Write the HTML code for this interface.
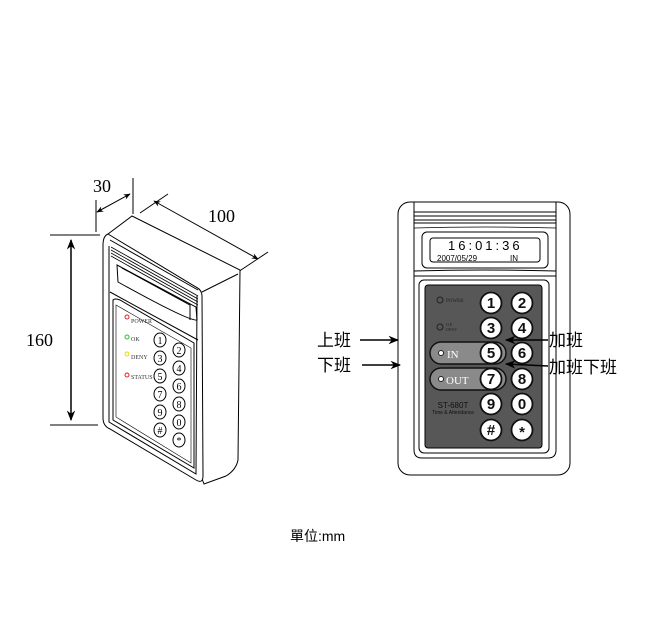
<!DOCTYPE html>
<html><head><meta charset="utf-8"><style>
html,body{margin:0;padding:0;background:#fff;}
svg{display:block}
text{font-family:"Liberation Serif","Noto Serif CJK SC",serif;}
.s{font-family:"Liberation Sans","Noto Sans CJK SC",sans-serif;}
</style></head><body>
<svg width="660" height="630" viewBox="0 0 660 630" xmlns="http://www.w3.org/2000/svg">
<defs>
<marker id="a" viewBox="0 0 10 10" refX="9" refY="5" markerWidth="7" markerHeight="7" orient="auto-start-reverse"><path d="M0,1 L10,5 L0,9 L3,5z" fill="#000"/></marker>
</defs>
<g stroke="#000" fill="none" stroke-width="1">
<line x1="50" y1="235" x2="100" y2="235"/>
<line x1="50" y1="425" x2="98" y2="425"/>
<line x1="71" y1="240" x2="71" y2="420" stroke-width="1.5" marker-start="url(#a)" marker-end="url(#a)"/>
<line x1="96" y1="200" x2="96" y2="232"/>
<line x1="133" y1="178" x2="133" y2="214"/>
<line x1="97" y1="212" x2="130" y2="194" marker-start="url(#a)" marker-end="url(#a)"/>
<line x1="140" y1="213" x2="168" y2="194"/>
<line x1="238" y1="272" x2="268" y2="252"/>
<line x1="154" y1="201" x2="258" y2="259" marker-start="url(#a)" marker-end="url(#a)"/>
<path d="M108,234 L132,216 L240,270 L238,460 Q236,470 226,476 L204,484 Z" fill="#fff"/>
<path d="M108,234 Q103,236 103,245 L103,418 Q103,426 110,429 L196,480 Q203,484 203,476 L202,296 Q202,290 196,287 Z" fill="#fff"/>
<path d="M202,292 L238,274"/>
<path d="M110,240 L198,290"/>
<path d="M109,246 L109,422 L196,474 L197,296"/>
<g stroke-width="0.8">
<path d="M111,247 L198,296"/><path d="M111,250 L198,299"/><path d="M111,253 L198,302"/><path d="M111,256 L198,305"/>
</g>
<path d="M117,265 L196,307 L197,320 Q190,322 118,282 Z"/>
<path d="M122,268 L190,305 L190,320"/>
<path d="M110,292 L198,340"/>
<path d="M113,300 Q115,298 120,300 L194,343 L194,468 L113,420 Z"/>
<path d="M116,305 L191,348 L191,463 L116,417 Z" stroke-width="0.6"/>
<g stroke-width="1">
<ellipse cx="160" cy="340" rx="6" ry="7"/><ellipse cx="179" cy="350" rx="6" ry="7"/>
<ellipse cx="160" cy="358" rx="6" ry="7"/><ellipse cx="179" cy="368" rx="6" ry="7"/>
<ellipse cx="160" cy="376" rx="6" ry="7"/><ellipse cx="179" cy="386" rx="6" ry="7"/>
<ellipse cx="160" cy="394" rx="6" ry="7"/><ellipse cx="179" cy="404" rx="6" ry="7"/>
<ellipse cx="160" cy="412" rx="6" ry="7"/><ellipse cx="179" cy="422" rx="6" ry="7"/>
<ellipse cx="160" cy="430" rx="6" ry="7"/><ellipse cx="179" cy="440" rx="6" ry="7"/>
</g>
<circle cx="127" cy="317" r="2" stroke="#d22"/>
<circle cx="127" cy="337" r="2" stroke="#3b3"/>
<circle cx="127" cy="354" r="2" stroke="#dd0"/>
<circle cx="127" cy="375" r="2" stroke="#d22"/>
<rect x="398" y="202" width="172" height="273" rx="12"/>
<path d="M414,202 L414,450 Q414,458 422,458 L548,458 Q556,458 556,450 L556,202"/>
<line x1="414" y1="212" x2="556" y2="212"/><line x1="414" y1="216" x2="556" y2="216"/>
<line x1="414" y1="220" x2="556" y2="220"/><line x1="414" y1="223" x2="556" y2="223"/>
<path d="M414,228 Q485,226 556,228" stroke-width="0.8"/>
<path d="M414,271 Q485,269 556,271"/><line x1="414" y1="276" x2="556" y2="276"/>
<rect x="422" y="232" width="126" height="36" rx="5"/>
<rect x="430" y="238" width="110" height="24" rx="3"/>
<rect x="419" y="280" width="130" height="173" rx="5"/>
<rect x="425" y="285" width="117" height="163" rx="3" fill="#575757"/>
<rect x="430" y="342" width="76" height="22" rx="11" fill="#8a8a8a" stroke="#111" stroke-width="1.5"/>
<rect x="430" y="368" width="76" height="22" rx="11" fill="#8a8a8a" stroke="#111" stroke-width="1.5"/>
<circle cx="440" cy="300" r="3" stroke="#222"/>
<circle cx="440" cy="327" r="3" stroke="#222"/>
<circle cx="441" cy="353" r="2.5" fill="#fff" stroke="#222"/>
<circle cx="441" cy="379" r="2.5" fill="#fff" stroke="#222"/>
<g fill="#fff" stroke="#111" stroke-width="1.8">
<circle cx="491" cy="303" r="10.5"/><circle cx="522" cy="303" r="10.5"/>
<circle cx="491" cy="328" r="10.5"/><circle cx="522" cy="328" r="10.5"/>
<circle cx="491" cy="353" r="10.5"/><circle cx="522" cy="353" r="10.5"/>
<circle cx="491" cy="379" r="10.5"/><circle cx="522" cy="379" r="10.5"/>
<circle cx="491" cy="404" r="10.5"/><circle cx="522" cy="404" r="10.5"/>
<circle cx="491" cy="430" r="10.5"/><circle cx="522" cy="430" r="10.5"/>
</g>
<line x1="360" y1="340" x2="398" y2="340" stroke-width="1.5" marker-end="url(#a)"/>
<line x1="362" y1="365" x2="400" y2="365" stroke-width="1.5" marker-end="url(#a)"/>
<line x1="548" y1="340" x2="506" y2="340" stroke-width="1.5" marker-end="url(#a)"/>
<line x1="548" y1="366" x2="506" y2="364" stroke-width="1.5" marker-end="url(#a)"/>
</g>
<g font-size="18">
<text x="93" y="192">30</text>
<text x="208" y="222">100</text>
<text x="26" y="346">160</text>
</g>
<g font-size="6" fill="#333">
<text x="131" y="323">POWER</text><text x="131" y="341">OK</text>
<text x="131" y="359">DENY</text><text x="131" y="379">STATUS</text>
</g>
<g font-size="10" text-anchor="middle">
<text x="160" y="344">1</text><text x="179" y="354">2</text>
<text x="160" y="362">3</text><text x="179" y="372">4</text>
<text x="160" y="380">5</text><text x="179" y="390">6</text>
<text x="160" y="398">7</text><text x="179" y="408">8</text>
<text x="160" y="416">9</text><text x="179" y="426">0</text>
<text x="160" y="434">#</text><text x="179" y="444">*</text>
</g>
<text class="s" x="448" y="250" font-size="13" letter-spacing="3">16:01:36</text>
<text class="s" x="437" y="261" font-size="8">2007/05/29</text>
<text class="s" x="510" y="261" font-size="8">IN</text>
<text x="446" y="302" font-size="5" fill="#222">POWER</text>
<text x="446" y="326" font-size="4" fill="#222">O.E</text>
<text x="446" y="331" font-size="4" fill="#222">DENY</text>
<text x="447" y="358" font-size="11" fill="#fff">IN</text>
<text x="446" y="384" font-size="11" fill="#fff">OUT</text>
<text class="s" x="453" y="408" font-size="8" text-anchor="middle" fill="#111">ST-680T</text>
<text class="s" x="453" y="414" font-size="5" text-anchor="middle" fill="#111">Time &amp; Attendance</text>
<g class="s" font-size="15" font-weight="bold" text-anchor="middle" fill="#111">
<text class="s" x="491" y="308">1</text><text class="s" x="522" y="308">2</text>
<text class="s" x="491" y="333">3</text><text class="s" x="522" y="333">4</text>
<text class="s" x="491" y="358">5</text><text class="s" x="522" y="358">6</text>
<text class="s" x="491" y="384">7</text><text class="s" x="522" y="384">8</text>
<text class="s" x="491" y="409">9</text><text class="s" x="522" y="409">0</text>
<text class="s" x="491" y="435">#</text><text class="s" x="522" y="437">*</text>
</g>
<g class="s" font-size="17">
<text class="s" x="317" y="346">上班</text>
<text class="s" x="317" y="371">下班</text>
<text class="s" x="549" y="346">加班</text>
<text class="s" x="549" y="373">加班下班</text>
</g>
<text class="s" x="290" y="541" font-size="14">單位:mm</text>
</svg>
</body></html>
